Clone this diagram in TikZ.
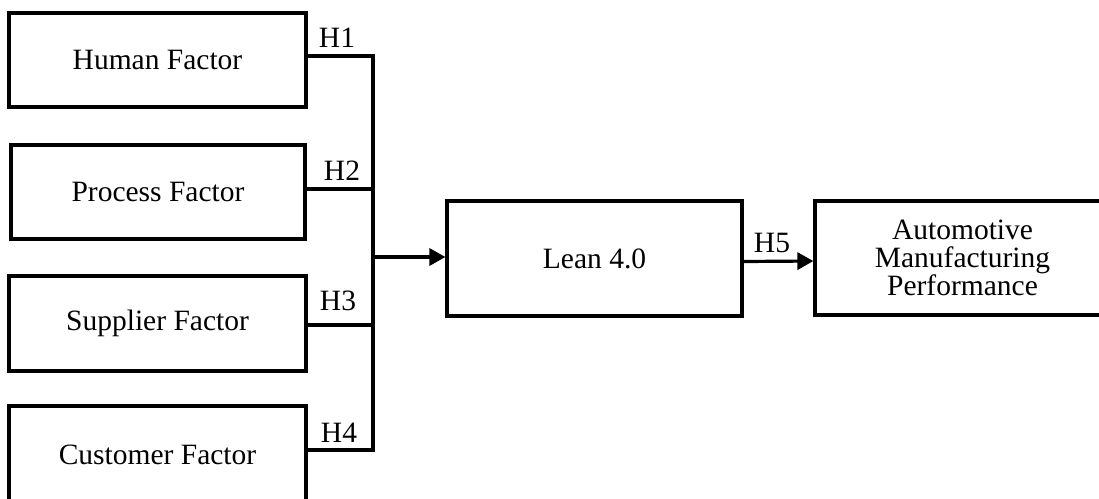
\documentclass[tikz,border=0pt]{standalone}
\usepackage{fontspec}
\setmainfont{Liberation Serif}
\usetikzlibrary{arrows.meta}
\begin{document}
\begin{tikzpicture}[x=1pt,y=-1pt,
  box/.style={draw=black,line width=3.2pt,fill=white,inner sep=0pt,font=\fontsize{29.5}{28}\selectfont,align=center},
  conn/.style={draw=black,line width=3.2pt},
  arr/.style={conn,-{Triangle[length=16pt,width=17pt]}},
  hlab/.style={font=\fontsize{29.5}{30}\selectfont,inner sep=0pt}]
\useasboundingbox (0,0) rectangle (1099,498);
\clip (0,0) rectangle (1099,498);
\fill[white] (0,0) rectangle (1099,498);
\node[box,minimum width=297pt,minimum height=94pt] (h) at (157.5,60) {Human Factor};
\node[box,minimum width=294pt,minimum height=94pt] (p) at (158,192) {Process Factor};
\node[box,minimum width=297pt,minimum height=95pt] (s) at (157.5,323.5) {Supplier Factor};
\node[box,minimum width=297pt,minimum height=98pt] (c) at (157.5,455) {Customer Factor};
\node[box,minimum width=295pt,minimum height=115pt] (l) at (594.5,258.5) {Lean 4.0};
\node[box,minimum width=295pt,minimum height=114pt] (a) at (962.5,258) {Automotive\\Manufacturing\\Performance};
\coordinate (j1) at (373,56);
\coordinate (j2) at (373,189);
\coordinate (j3) at (373,325);
\coordinate (j4) at (373,450);
\coordinate (jm) at (373,257);
\draw[conn] (h.east |- j1) -- (j1) -- (j4) -- (c.east |- j4);
\draw[conn] (p.east |- j2) -- (j2);
\draw[conn] (s.east |- j3) -- (j3);
\draw[arr] (jm) -- (l.west |- jm);
\draw[arr] ([yshift=-3pt]l.east) -- ([yshift=-3pt]a.west);
\node[hlab] (h1) at (337,38) {H1};
\node[hlab] (h2) at (342,171) {H2};
\node[hlab] (h3) at (338,301) {H3};
\node[hlab] (h4) at (339,433) {H4};
\node[hlab] (h5) at (772,243) {H5};
\end{tikzpicture}
\end{document}
